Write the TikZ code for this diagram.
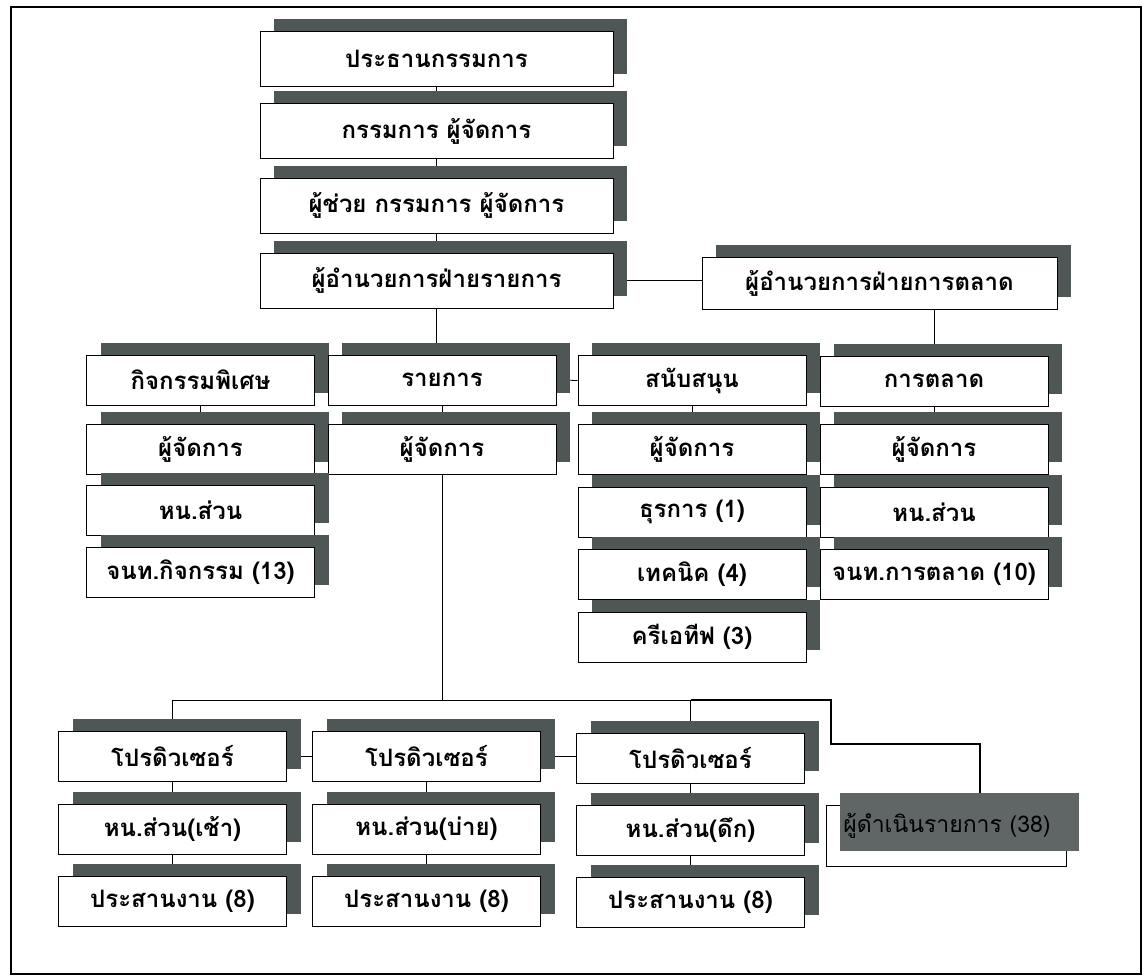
\documentclass[tikz,border=0pt]{standalone}
\usepackage{fontspec}
\newfontfamily\thaifont[Script=Thai]{Loma}
\usetikzlibrary{shadows,backgrounds}
\definecolor{shade}{RGB}{78,86,86}
\definecolor{darkfill}{RGB}{96,102,102}
\begin{document}
\begin{tikzpicture}[x=0.5pt,y=-0.5pt]
        \tikzstyle{unit} = [draw, fill=white, line width=0.4pt, inner sep=0pt,
            minimum width=114pt, minimum height=25pt,
            font=\thaifont\bfseries\fontsize{12}{14}\selectfont,
            general shadow={fill=shade, shadow xshift=7pt, shadow yshift=6pt}]
        \tikzstyle{wide} = [unit, minimum width=176.5pt, minimum height=27.5pt]
        \tikzstyle{link} = [draw, black, line width=0.4pt]
        \tikzstyle{heavy} = [draw, black, line width=1.4pt]

        \useasboundingbox (0,0) rectangle (1148,977);
        \draw[line width=1.1pt] (11,7) rectangle (1141,974);

        % top of the chain
        \node[wide] (chair) at (436.5,59) {ประธานกรรมการ};
        \node[wide] (md) at (436.5,131) {กรรมการ ผู้จัดการ};
        \node[wide] (amd) at (436.5,205.5) {ผู้ช่วย กรรมการ ผู้จัดการ};
        \node[wide] (dirprog) at (436.5,280.5) {ผู้อำนวยการฝ่ายรายการ};
        \node[wide, minimum width=177.5pt, minimum height=26pt] (dirmkt) at (879.5,283.5) {ผู้อำนวยการฝ่ายการตลาด};

        % departments
        \node[unit] (event) at (200.5,380) {กิจกรรมพิเศษ};
        \node[unit] (prog) at (442,380) {รายการ};
        \node[unit] (support) at (692,380.5) {สนับสนุน};
        \node[unit] (mkt) at (934,381) {การตลาด};

        \node[unit] (eventmgr) at (200.5,449) {ผู้จัดการ};
        \node[unit] (progmgr) at (442,449) {ผู้จัดการ};
        \node[unit] (supmgr) at (692,449.5) {ผู้จัดการ};
        \node[unit] (mktmgr) at (934,449.5) {ผู้จัดการ};

        \node[unit] (eventhead) at (200.5,510) {หน.ส่วน};
        \node[unit] (admin) at (692,512) {ธุรการ (1)};
        \node[unit] (mkthead) at (934,512) {หน.ส่วน};

        \node[unit] (eventstaff) at (200.5,572) {จนท.กิจกรรม (13)};
        \node[unit] (tech) at (692,574.5) {เทคนิค (4)};
        \node[unit] (mktstaff) at (934,574.5) {จนท.การตลาด (10)};

        \node[unit] (creative) at (692,637) {ครีเอทีฟ (3)};

        % producers
        \node[unit] (pro1) at (172.5,756.5) {โปรดิวเซอร์};
        \node[unit] (pro2) at (426.5,756.5) {โปรดิวเซอร์};
        \node[unit] (pro3) at (690.5,758) {โปรดิวเซอร์};

        \node[unit] (pro1h) at (172.5,829) {หน.ส่วน(เช้า)};
        \node[unit] (pro2h) at (426.5,829) {หน.ส่วน(บ่าย)};
        \node[unit] (pro3h) at (690.5,830) {หน.ส่วน(ดึก)};

        \node[unit] (pro1c) at (172.5,901) {ประสานงาน (8)};
        \node[unit] (pro2c) at (426.5,901) {ประสานงาน (8)};
        \node[unit] (pro3c) at (690.5,902) {ประสานงาน (8)};

        \node[draw, fill=white, line width=0.4pt, inner sep=0pt, minimum width=120pt,
            minimum height=30.5pt] (hostbox) at (946,835.5) {};
        \node[fill=darkfill, inner sep=0pt, minimum width=119.5pt, minimum height=29pt,
            anchor=north west] (host) at (840,793) {};
        \node[anchor=west, inner sep=0pt, text=black,
            font=\thaifont\fontsize{11.5}{13}\selectfont] (hosttext) at (843,826) {ผู้ดำเนินรายการ (38)};

        \coordinate (busL) at (172.5,700);
        \coordinate (busR) at (690.5,700);
        \coordinate (kink) at (831,744);
        \coordinate (drop) at (980,793);

        \begin{scope}[on background layer]
            \path[link] (chair) to (md);
            \path[link] (md) to (amd);
            \path[link] (amd) to (dirprog);
            \path[link] (dirprog) to (dirprog |- prog.north);
            \path[link] (dirprog.east) to (dirprog.east -| dirmkt.west);
            \path[link] (dirmkt.south -| mkt) to (mkt.north);
            \path[link] (event.north east) to (prog.north west);
            \path[link] (prog.east) to (support.west);

            \path[link] (event) to (eventmgr);
            \path[link] (eventmgr) to (eventhead);
            \path[link] (eventhead) to (eventstaff);
            \path[link] (prog) to (progmgr);
            \path[link] (support) to (supmgr);
            \path[link] (supmgr) to (admin);
            \path[link] (admin) to (tech);
            \path[link] (tech) to (creative);
            \path[link] (mkt) to (mktmgr);
            \path[link] (mktmgr) to (mkthead);
            \path[link] (mkthead) to (mktstaff);

            \path[link] (progmgr) to (progmgr |- busL);
            \path[link] (busL) to (busR);
            \path[link] (busL) to (pro1);
            \path[link] (busR) to (pro3);
            \path[link] (pro1) to (pro2);
            \path[link] (pro2) to (pro2 -| pro3.west);
            \path[link] (pro1) to (pro1h);
            \path[link] (pro1h) to (pro1c);
            \path[link] (pro2) to (pro2h);
            \path[link] (pro2h) to (pro2c);
            \path[link] (pro3) to (pro3h);
            \path[link] (pro3h) to (pro3c);
            \path[heavy] (busR) -| (kink) -| (drop);
        \end{scope}
\end{tikzpicture}
\end{document}
